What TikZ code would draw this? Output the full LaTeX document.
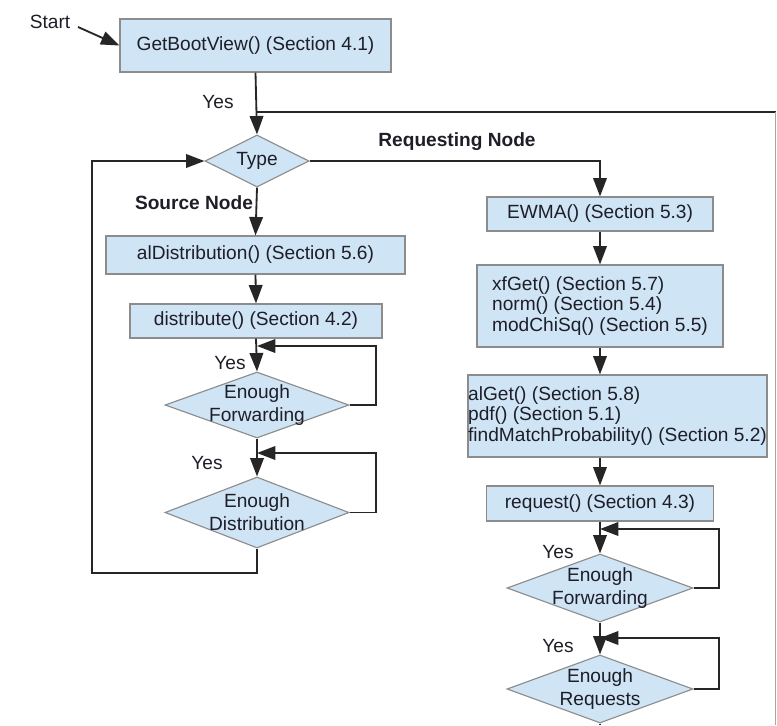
\documentclass[tikz,border=0pt]{standalone}
\usepackage{fontspec}
\setmainfont{Liberation Sans}
\usepackage{xcolor}
\usetikzlibrary{arrows.meta,shapes.geometric}
\definecolor{boxfill}{RGB}{207,228,245}
\definecolor{boxline}{RGB}{140,140,140}
\definecolor{ink}{RGB}{30,30,40}

\begin{document}
\begin{tikzpicture}[x=0.025cm,y=-0.025cm,
  font=\fontsize{13.6}{16.5}\selectfont,text=ink,
  func/.style={draw=boxline,fill=boxfill,line width=.8pt,inner sep=0pt,minimum height=.85cm},
  multi/.style={func,align=left,font=\fontsize{13.6}{14.5}\selectfont,minimum height=2.05cm},
  decide/.style={diamond,draw=boxline,fill=boxfill,line width=.8pt,inner sep=0pt,minimum width=4.6cm,minimum height=1.7cm},
  inside/.style={label={[align=center,font=\fontsize{13.6}{16.3}\selectfont,text=ink]center:#1}},
  branch/.style={font=\fontsize{13.6}{16.5}\selectfont\bfseries},
  flow/.style={-{Triangle[length=4.6mm,width=3.4mm]},draw=black!85,line width=1.3pt},
  link/.style={draw=black!85,line width=1.3pt}]

\useasboundingbox (0,0) rectangle (777,725);
% start and type decision
\node (start) at (50,22) {Start};
\coordinate (s0) at (78,27);
\node[func,minimum width=6.775cm,minimum height=1.325cm] (boot) at (255.5,45.5) {GetBootView() (Section 4.1)};
\node[decide,minimum width=2.6cm,minimum height=1.3cm,inside=Type] (type) at (257,161) {};
\draw[flow] (s0)--(boot.west);
\draw[flow] (boot.south)--(type.north);
\node (yes0) at (218,102) {Yes};
\coordinate (back) at (257,112);
\coordinate (rt) at (775.5,112);
\coordinate (rb) at (775.5,725);
\draw[link] (back)--(rt);
\draw[draw=black!35,line width=1.3pt] (rt)--(rb);
% source node branch
\node[branch] (src) at (194,203) {Source Node};
\node[func,minimum width=7.475cm,minimum height=.95cm] (aldist) at (255.5,255) {alDistribution() (Section 5.6)};
\node[func,minimum width=6.3cm] (dist) at (256,321) {distribute() (Section 4.2)};
\node[decide,minimum height=1.65cm,inside={Enough\\Forwarding}] (fwdA) at (257,405) {};
\node[decide,minimum height=1.775cm,inside={Enough\\Distribution}] (distA) at (257,512.5) {};
\node (yes1) at (230,363) {Yes};
\node (yes2) at (207,463) {Yes};
\coordinate (fwdAin) at (257,346);
\coordinate (distAin) at (257,453);
\coordinate (lb) at (92,573);
\draw[flow] (type.south)--(aldist.north);
\draw[flow] (aldist.south)--(dist.north);
\draw[flow] (dist.south)--(fwdA.north);
\draw[flow] (fwdA.east)--++(26,0)|-(fwdAin);
\draw[flow] (fwdA.south)--(distA.north);
\draw[flow] (distA.east)--++(26,0)|-(distAin);
\draw[flow] (distA.south)|-(lb)|-(type.west);
% requesting node branch
\node[branch] (req0) at (457,142) {Requesting Node};
\node[func,minimum width=5.65cm] (ewma) at (600,214) {EWMA() (Section 5.3)};
\node[multi,minimum width=6.15cm] (xfget) at (600,306)
  {xfGet() (Section 5.7)\\norm() (Section 5.4)\\modChiSq() (Section 5.5)};
\node[multi,minimum width=7.475cm] (alget) at (617.5,416)
  {alGet() (Section 5.8)\\pdf() (Section 5.1)\\findMatchProbability() (Section 5.2)};
\node[func,minimum width=5.675cm,minimum height=.875cm] (req) at (600,503.5) {request() (Section 4.3)};
\node[decide,minimum width=4.65cm,inside={Enough\\Forwarding}] (fwdB) at (600,588) {};
\node[decide,minimum width=4.65cm,inside={Enough\\Requests}] (reqB) at (600,689) {};
\node (yes3) at (558,552) {Yes};
\node (yes4) at (558,646) {Yes};
\coordinate (fwdBin) at (600,529);
\coordinate (reqBin) at (600,638);
\coordinate (bot) at (600,725);
\draw[flow] (type.east)-|(ewma.north);
\draw[flow] (ewma.south)--(xfget.north);
\draw[flow] (xfget.south)--(xfget.south|-alget.north);
\draw[flow] (alget.south-|req.north)--(req.north);
\draw[flow] (req.south)--(fwdB.north);
\draw[flow] (fwdB.east)--++(25,0)|-(fwdBin);
\draw[flow] (fwdB.south)--(reqB.north);
\draw[flow] (reqB.east)--++(25,0)|-(reqBin);
\draw[link] (reqB.south)--(bot);

\end{tikzpicture}
\end{document}
